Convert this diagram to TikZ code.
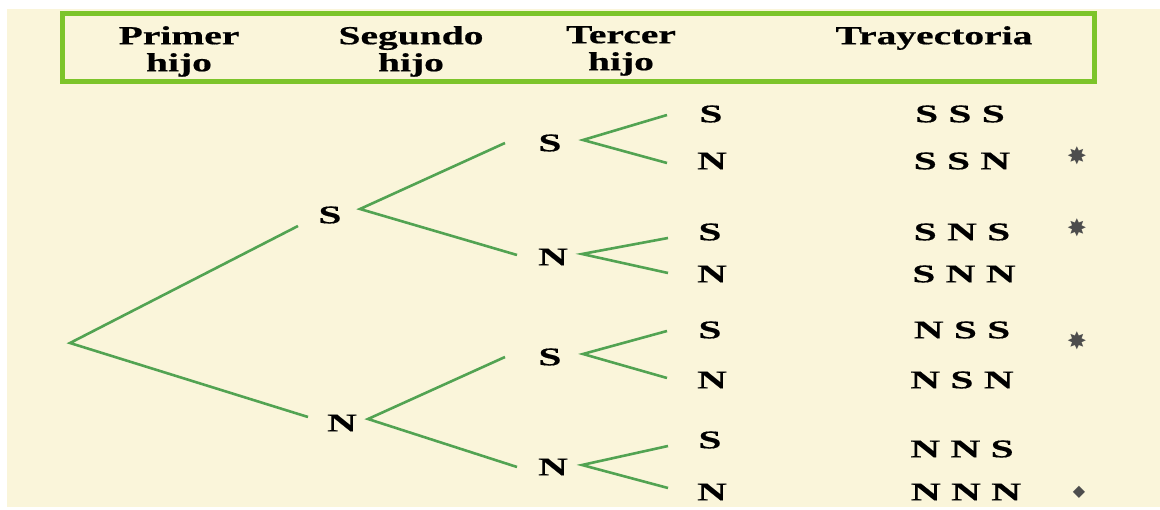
\documentclass[tikz,border=0pt]{standalone}
\usepackage{fontspec}
\setmainfont{Liberation Serif}
\newfontfamily\headfont[FakeStretch=1.52,FakeBold=0.6]{Liberation Serif}
\newfontfamily\letterfont[FakeStretch=1.62,FakeBold=0.4]{Liberation Serif}
\newfontfamily\symfont{DejaVu Sans}
\definecolor{cream}{HTML}{FAF5DA}
\definecolor{frame}{HTML}{7CC42A}
\definecolor{branch}{HTML}{52A352}
\definecolor{markgray}{HTML}{4D4D4D}
\begin{document}
\begin{tikzpicture}[x=1pt,y=-1pt,
  head/.style={font=\headfont\fontsize{26}{27}\selectfont\bfseries, align=center, inner sep=0pt, anchor=north},
  lbl/.style={font=\letterfont\fontsize{25.5}{25.5}\selectfont\bfseries, inner sep=0pt},
  traj/.style={font=\letterfont\fontsize{25.5}{25.5}\selectfont\bfseries, inner sep=0pt},
  edge/.style={draw=branch, line width=2.6pt},
  starmark/.style={font=\symfont\fontsize{24}{24}\selectfont, text=markgray, inner sep=0pt}]
\useasboundingbox (0,0) rectangle (1160,510);
\fill[white] (0,0) rectangle (1160,510);
\fill[cream] (7,9) rectangle (1160,507);
% header frame
\draw[frame, line width=5pt] (62,14) rectangle (1094,82);
\node[head] (h1) at (179,26) {Primer\\hijo};
\node[head] (h2) at (411,26) {Segundo\\hijo};
\node[head] (h3) at (621,26) {Tercer\\hijo};
\node[head] (h4) at (934,26) {Trayectoria};
% tree vertices
\coordinate (r) at (70,343);
\node[lbl] (a) at (330,215) {S};
\node[lbl] (b) at (342,423) {N};
\node[lbl] (aa) at (550,143) {S};
\node[lbl] (ab) at (553,257) {N};
\node[lbl] (ba) at (550,357) {S};
\node[lbl] (bb) at (553,467) {N};
\node[lbl] (l1) at (711,114) {S};
\node[lbl] (l2) at (712,161) {N};
\node[lbl] (l3) at (710,232) {S};
\node[lbl] (l4) at (712,274) {N};
\node[lbl] (l5) at (710,330) {S};
\node[lbl] (l6) at (712,380) {N};
\node[lbl] (l7) at (710,440) {S};
\node[lbl] (l8) at (712,492) {N};
% branches
\draw[edge] (298,226) -- (r) -- (308,417);
\draw[edge] (505,143) -- (360,209) -- (517,255);
\draw[edge] (505,357) -- (368,419) -- (517,467);
\draw[edge] (667,115) -- (583,140) -- (667,163);
\draw[edge] (668,238) -- (582,254) -- (668,273);
\draw[edge] (667,331) -- (583,354) -- (667,378);
\draw[edge] (668,446) -- (582,465) -- (668,488);
% trajectories
\node[traj] (t1) at (960,114) {S S S};
\node[traj] (t2) at (962,161) {S S N};
\node[traj] (t3) at (962,232) {S N S};
\node[traj] (t4) at (964,274) {S N N};
\node[traj] (t5) at (962,330) {N S S};
\node[traj] (t6) at (962,380) {N S N};
\node[traj] (t7) at (962,449) {N N S};
\node[traj] (t8) at (966,492) {N N N};
% marks
\node[starmark] (m2) at (1077,156) {✸};
\node[starmark] (m3) at (1077,228) {✸};
\node[starmark] (m5) at (1077,341) {✸};
\node[starmark, font=\symfont\fontsize{16}{16}\selectfont] (m8) at (1079,492) {◆};
\end{tikzpicture}
\end{document}
